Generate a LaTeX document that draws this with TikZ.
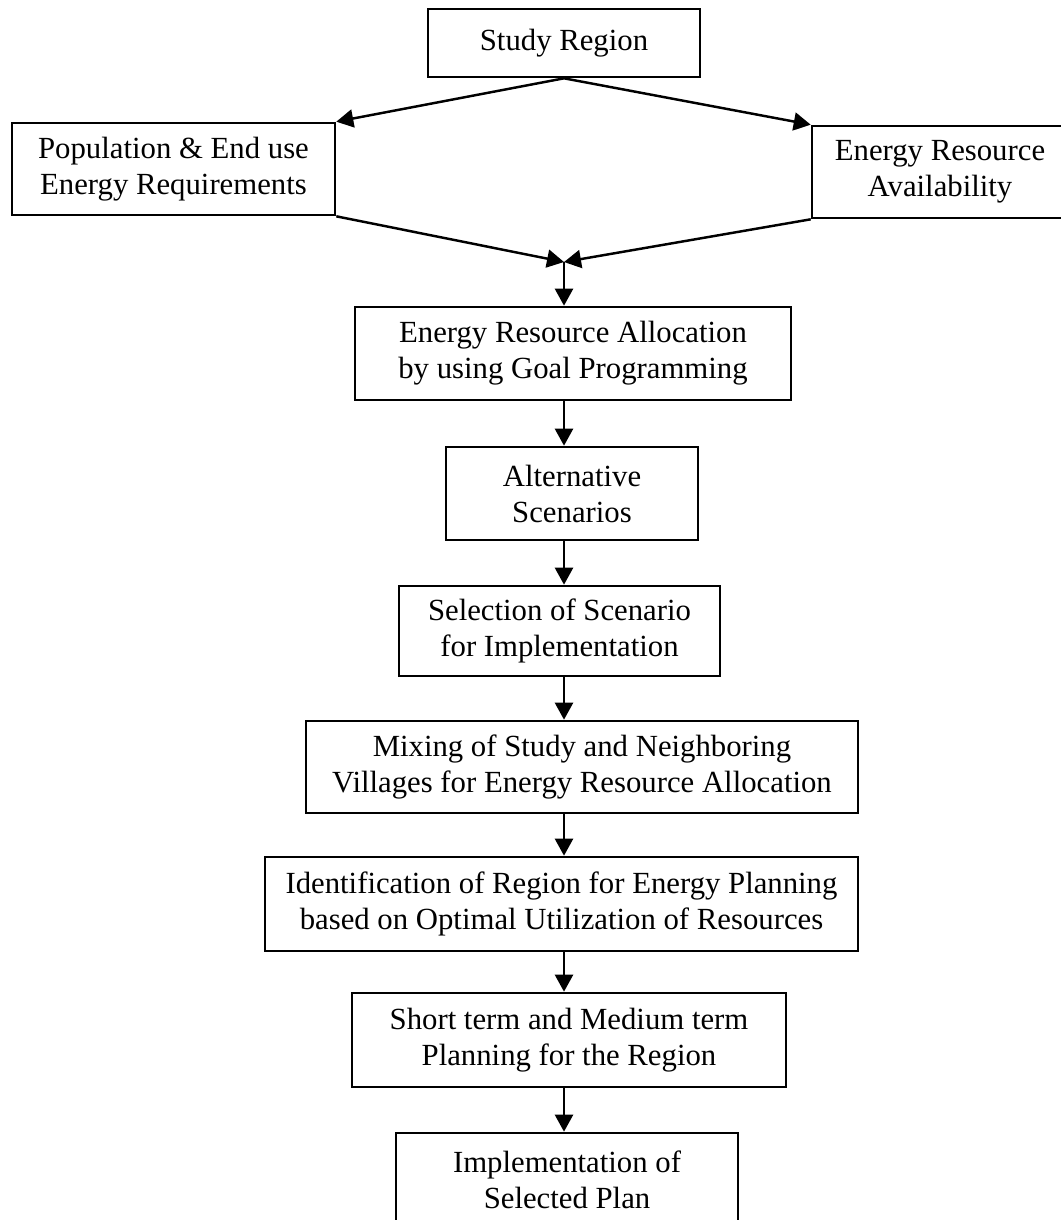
\documentclass[tikz,border=0pt]{standalone}
\usepackage{fontspec}
\setmainfont{Liberation Serif}
\usetikzlibrary{positioning,arrows.meta}

\begin{document}
\begin{tikzpicture}[x=0.02cm, y=-0.02cm,
			block/.style={draw, line width=1.5pt, align=center, inner sep=0pt, font=\fontsize{17.5}{20.5}\selectfont},
			flow/.style={-{Triangle[length=0.34cm, width=0.36cm]}, line width=1.4pt},
		]

		\clip (0,0) rectangle (1061,1220);

		\node[block, minimum width=5.44cm, minimum height=1.36cm] (study)  at (564,43)    {Study Region};
		\node[block, minimum width=6.46cm, minimum height=1.84cm] (pop)    at (173.5,169) {Population \& End use\\Energy Requirements};
		\node[block, minimum width=5.12cm, minimum height=1.84cm] (avail)  at (940,172)   {Energy Resource\\Availability};
		\node[block, minimum width=8.72cm, minimum height=1.86cm] (alloc)  at (573,353.5) {Energy Resource Allocation\\by using Goal Programming};
		\node[block, minimum width=5.04cm, minimum height=1.86cm] (alt)    at (572,493.5) {Alternative\\Scenarios};
		\node[block, minimum width=6.42cm, minimum height=1.80cm] (select) at (559.5,631) {Selection of Scenario\\for Implementation};
		\node[block, minimum width=11.04cm, minimum height=1.84cm] (mixing) at (582,767)  {Mixing of Study and Neighboring\\Villages for Energy Resource Allocation};
		\node[block, minimum width=11.86cm, minimum height=1.88cm] (ident) at (561.5,904)  {Identification of Region for Energy Planning\\based on Optimal Utilization of Resources};
		\node[block, minimum width=8.68cm, minimum height=1.88cm] (short)  at (569,1040)  {Short term and Medium term\\Planning for the Region};
		\node[block, minimum width=6.84cm, minimum height=1.88cm] (impl)   at (567,1180)  {Implementation of\\Selected Plan};

		\coordinate (axis)  at (564,0);
		\coordinate (merge) at (564,262);

		\draw[flow] (study.south) -- (pop.north east);
		\draw[flow] (study.south) -- (avail.north west);
		\draw[flow] (pop.south east) -- (merge);
		\draw[flow] (avail.south west) -- (merge);
		\draw[flow] (merge) -- (axis |- alloc.north);
		\draw[flow] (axis |- alloc.south) -- (axis |- alt.north);
		\draw[flow] (axis |- alt.south) -- (axis |- select.north);
		\draw[flow] (axis |- select.south) -- (axis |- mixing.north);
		\draw[flow] (axis |- mixing.south) -- (axis |- ident.north);
		\draw[flow] (axis |- ident.south) -- (axis |- short.north);
		\draw[flow] (axis |- short.south) -- (axis |- impl.north);

		\end{tikzpicture}
\end{document}
